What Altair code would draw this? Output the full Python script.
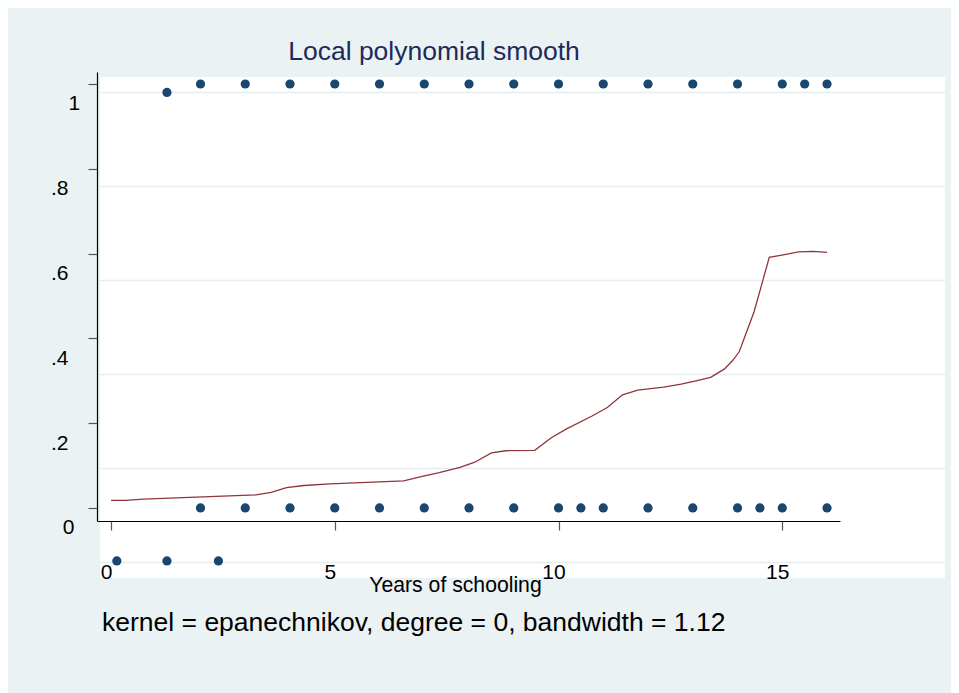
import altair as alt
import pandas as pd

TITLE = "Local polynomial smooth"
NOTE = "kernel = epanechnikov, degree = 0, bandwidth = 1.12"
X_TITLE = "Years of schooling"

x_ticks = [0, 5, 10, 15]
y_ticks = [0, 0.2, 0.4, 0.6, 0.8, 1]
y_labels = ["0", ".2", ".4", ".6", ".8", "1"]
grid_levels = [0, 0.2, 0.4, 0.6, 0.8, 1]

# smoothed curve
smooth_x = [0, 0.33, 0.72, 3.24, 3.58, 3.92, 4.31, 4.89, 6.54, 6.93, 7.31, 7.8,
            8.13, 8.5, 8.82, 9.47, 9.83, 10.17, 10.75, 11.09, 11.43, 11.77, 12.35,
            12.74, 13.07, 13.4, 13.71, 13.9, 14.04, 14.37, 14.71, 15.02, 15.36,
            15.69, 16.0]
smooth_y = [0.018, 0.018, 0.021, 0.031, 0.037, 0.048, 0.053, 0.057, 0.064, 0.074,
            0.083, 0.096, 0.108, 0.13, 0.135, 0.136, 0.165, 0.186, 0.217, 0.237,
            0.267, 0.278, 0.285, 0.292, 0.3, 0.308, 0.328, 0.349, 0.369, 0.463,
            0.591, 0.597, 0.604, 0.605, 0.603]

# observed points
top_x = [1.25, 2, 3, 4, 5, 6, 7, 8, 9, 10, 11, 12, 13, 14, 15, 15.5, 16]
top_y = [0.98, 1, 1, 1, 1, 1, 1, 1, 1, 1, 1, 1, 1, 1, 1, 1, 1]
bottom_x = [2, 3, 4, 5, 6, 7, 8, 9, 10, 10.5, 11, 12, 13, 14, 14.5, 15, 16]
bottom_y = [0] * len(bottom_x)
low_x = [0.13, 1.25, 2.4]
low_y = [-0.125, -0.125, -0.125]

FONT = "Liberation Sans"
NAVY = "#1A476F"
MAROON = "#90353B"
BG = "#EAF2F3"

line_df = pd.DataFrame({"x": smooth_x, "y": smooth_y})
pts_df = pd.DataFrame({"x": top_x + bottom_x + low_x,
                       "y": top_y + bottom_y + low_y})

xs = alt.Scale(domain=[-0.313, 16.29], nice=False, zero=False)
ys = alt.Scale(domain=[-0.0307, 1.0283], nice=False, zero=False)

label_arr = "[" + ",".join("'%s'" % s for s in y_labels) + "]"

xaxis = alt.Axis(values=x_ticks, title=X_TITLE, grid=False, domainColor="black",
                 domainWidth=1.2, tickColor="#555555", tickSize=9, tickWidth=1.2,
                 labelFont=FONT, labelFontSize=21, labelColor="black",
                 labelPadding=31, labelOffset=-5, labelFlush=False, labelOverlap=False,
                 titleFont=FONT, titleFontSize=21.2, titleFontWeight="normal",
                 titleColor="black", titleX=358, titleY=70, titleAlign="center",
                 titleBaseline="alphabetic", zindex=1)
yaxis = alt.Axis(values=y_ticks, labelExpr=label_arr + "[round(datum.value*5)]",
                 title=None, grid=False, domainColor="black", domainWidth=1.2,
                 tickColor="#555555", tickSize=9, tickWidth=1.2,
                 labelFont=FONT, labelFontSize=21, labelColor="black",
                 labelAlign={"condition": [
                     {"test": "datum.value == 1", "value": "left"},
                     {"test": "datum.value == 0", "value": "center"}],
                     "value": "right"},
                 labelBaseline="middle", labelPadding=20,
                 labelOffset=20, labelOverlap=False, labelFlush=False, zindex=1)

panel = alt.Chart(pd.DataFrame({"k": [0]})).mark_rect(color="white").encode(
    x=alt.value(3), x2=alt.value(848), y=alt.value(5), y2=alt.value(506))

grid = alt.Chart(pd.DataFrame({"g": grid_levels})).mark_rule(
    color="#E4EDEF", strokeWidth=1.6).encode(
    y=alt.Y("g:Q", scale=alt.Scale(domain=[0, 1], range=[490.5, 20.5]), axis=None),
    x=alt.value(3), x2=alt.value(848))

line = alt.Chart(line_df).mark_line(color=MAROON, strokeWidth=1.3).encode(
    x=alt.X("x:Q", scale=xs, axis=xaxis),
    y=alt.Y("y:Q", scale=ys, axis=yaxis))

pts = alt.Chart(pts_df).mark_circle(color=NAVY, size=85, opacity=1).encode(
    x=alt.X("x:Q", scale=xs, axis=xaxis),
    y=alt.Y("y:Q", scale=ys, axis=yaxis))

title_layer = alt.Chart(pd.DataFrame({"t": [TITLE]})).mark_text(
    font=FONT, fontSize=26.5, color="#1E2A5A", align="center",
    baseline="alphabetic").encode(text="t:N", x=alt.value(337), y=alt.value(-12))

note_layer = alt.Chart(pd.DataFrame({"t": [NOTE]})).mark_text(
    font=FONT, fontSize=26.5, color="black", align="left",
    baseline="alphabetic").encode(text="t:N", x=alt.value(5), y=alt.value(559))

chart = alt.layer(
    panel, grid, alt.layer(line, pts, title_layer, note_layer)
).resolve_scale(y="independent").properties(
    width=743, height=449, autosize="none",
    padding={"left": 89, "top": 64, "right": 111, "bottom": 172},
    background=BG,
).configure_view(stroke=None)

chart.save("out.html", embed_options={"renderer": "svg", "actions": False})
